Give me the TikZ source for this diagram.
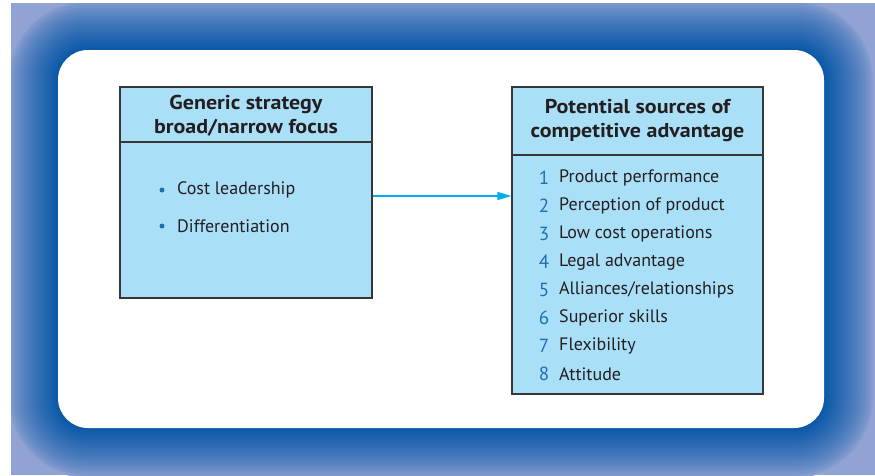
\documentclass[tikz,border=0pt]{standalone}
\usepackage{fontspec}
\setmainfont{PT Sans}
\newfontfamily\hdrfont{PT Sans}[FakeStretch=1.1]
\usetikzlibrary{arrows.meta}
\definecolor{frameDark}{RGB}{10,88,168}
\definecolor{frameLight}{RGB}{145,163,211}
\definecolor{boxFill}{RGB}{170,223,248}
\definecolor{boxLine}{RGB}{55,55,55}
\definecolor{txt}{RGB}{35,31,32}
\definecolor{numBlue}{RGB}{30,110,180}
\definecolor{arrowBlue}{RGB}{0,174,239}
\tikzset{
  box/.style={draw=boxLine, fill=boxFill, line width=1.3pt, rectangle, inner sep=0pt},
  divider/.style={draw=boxLine, line width=1.1pt},
  hdr/.style={text=txt, align=center, font=\hdrfont\bfseries\fontsize{20}{24}\selectfont},
  item/.style={text=txt, anchor=west, inner sep=0pt, font=\fontsize{18}{22}\selectfont},
  num/.style={text=numBlue, inner sep=0pt, font=\fontsize{19}{22}\selectfont},
  bul/.style={fill=numBlue, circle, inner sep=0pt, minimum size=5pt},
  link/.style={draw=arrowBlue, line width=1.5pt, -{Triangle[length=14pt,width=8pt]}}
}
\begin{document}
\begin{tikzpicture}[x=1pt,y=-1pt]
\useasboundingbox (0,0) rectangle (875,475);
% frame with gradient
\begin{scope}
  \clip (11,3) rectangle (875,475);
  \fill[frameLight] (11,3) rectangle (875,475);
  \foreach \i in {0,...,50}{
    \pgfmathsetmacro\d{50-\i}
    \pgfmathsetmacro\p{100*(\i/50)^0.7}
    \pgfmathsetmacro\r{30+\d}
    \fill[frameDark!\p!frameLight, rounded corners=\r pt] (58-\d,50-\d) rectangle (824+\d,428+\d);
  }
\end{scope}
\fill[white, rounded corners=30pt] (58,50) rectangle (824,428);
% boxes
\node[box, minimum width=252pt, minimum height=211pt] (lb) at (246,192.5) {};
\node[box, minimum width=251pt, minimum height=307pt] (rb) at (637.5,240.5) {};
\coordinate (ldiv) at (0,142);
\coordinate (rdiv) at (0,155);
\draw[divider] (lb.west |- ldiv) -- (lb.east |- ldiv);
\draw[divider] (rb.west |- rdiv) -- (rb.east |- rdiv);
% headers
\node[hdr] (lh) at (246,115.5) {Generic strategy\\broad/narrow focus};
\node[hdr] (rh) at (637.5,120.5) {Potential sources of\\competitive advantage};
% left items
\node[bul] (lb1) at (162,190) {};
\node[item] (l1) at (177,190) {Cost leadership};
\node[bul] (lb2) at (162,226) {};
\node[item] (l2) at (177,226) {Differentiation};
% right items
\foreach \n/\t [count=\k] in {1/{Product performance},2/{Perception of product},3/{Low cost operations},4/{Legal advantage},5/{Alliances/relationships},6/{Superior skills},7/{Flexibility},8/{Attitude}}{
  \node[num] (n\k) at (544,178+28*\k-28) {\n};
  \node[item] (r\k) at (559,178+28*\k-28) {\t};
}
% connector
\coordinate (ay) at (0,196);
\draw[link] (lb.east |- ay) -- (rb.west |- ay);
\end{tikzpicture}
\end{document}
